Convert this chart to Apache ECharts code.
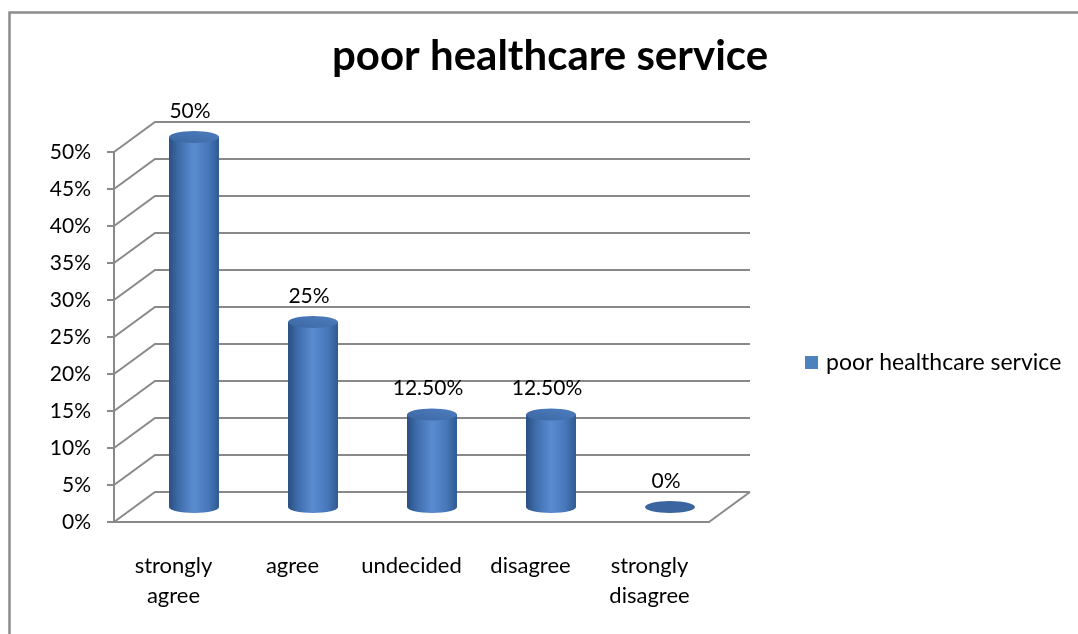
<!DOCTYPE html>
<html>
<head>
<meta charset="utf-8">
<title>poor healthcare service</title>
<script src="https://cdn.jsdelivr.net/npm/echarts@6/dist/echarts.min.js"></script>
<style>
  html, body { margin: 0; padding: 0; background: #fff; }
  #chart { width: 1078px; height: 634px; }
</style>
</head>
<body>
<div id="chart"></div>
<script>
// Survey responses
const categories = ['strongly\nagree', 'agree', 'undecided', 'disagree', 'strongly\ndisagree'];
const values = [0.5, 0.25, 0.125, 0.125, 0];
const seriesName = 'poor healthcare service';
const tickValues = [0, 0.05, 0.1, 0.15, 0.2, 0.25, 0.3, 0.35, 0.4, 0.45, 0.5];

// Pseudo-3D depth of the plot box (pixels the back wall sits behind the front plane)
const DEPTH_X = 41;
const DEPTH_Y = -30;
const FONT = 'Lato, "Open Sans", sans-serif';
const GRID_COLOR = '#898989';
const LABEL_SIZE = 21;

function pct(v) {
  const p = v * 100;
  return Number.isInteger(p) ? p + '%' : p.toFixed(2) + '%';
}

// Back wall gridlines plus the diagonal "side wall" strokes
function renderWall(params, api) {
  const cs = params.coordSys;
  const v = api.value(0);
  const p = api.coord([0, v]);
  const y = p[1];
  const xl = cs.x, xr = cs.x + cs.width;
  const children = [
    { type: 'polyline', shape: { points: [[xl, y], [xl + DEPTH_X, y + DEPTH_Y], [xr + DEPTH_X, y + DEPTH_Y]] },
      style: { stroke: GRID_COLOR, lineWidth: 2, fill: null } }
  ];
  if (v === 0) {
    children.push({ type: 'line', shape: { x1: xr, y1: y, x2: xr + DEPTH_X, y2: y + DEPTH_Y },
      style: { stroke: GRID_COLOR, lineWidth: 2 } });
  }
  return { type: 'group', children };
}

// Cylinder standing halfway into the depth of the plot box
function renderCylinder(params, api) {
  const i = api.value(0), v = api.value(1);
  const base = api.coord([i, 0]);
  const top = api.coord([i, v]);
  const rx = api.size([1, 0])[0] * 0.42 / 2;
  const ry = 6;
  const cx = base[0] + DEPTH_X / 2;
  const yb = base[1] + DEPTH_Y / 2;
  const yt = top[1] + DEPTH_Y / 2;
  const bodyFill = {
    type: 'linear', x: 0, y: 0, x2: 1, y2: 0,
    colorStops: [
      { offset: 0, color: '#2a4f82' },
      { offset: 0.2, color: '#3f6dab' },
      { offset: 0.5, color: '#5a8cd2' },
      { offset: 0.8, color: '#4676b8' },
      { offset: 1, color: '#2f5990' }
    ]
  };
  const topFill = {
    type: 'linear', x: 0, y: 1, x2: 1, y2: 0,
    colorStops: [
      { offset: 0, color: '#3b66a1' },
      { offset: 1, color: '#4e7ec0' }
    ]
  };
  const children = [];
  if (v > 0) {
    children.push({ type: 'circle', x: cx, y: yb, scaleY: ry / rx, shape: { cx: 0, cy: 0, r: rx }, style: { fill: bodyFill } });
    children.push({ type: 'rect', shape: { x: cx - rx, y: yt, width: rx * 2, height: yb - yt }, style: { fill: bodyFill } });
  }
  children.push({ type: 'circle', x: cx, y: yt, scaleY: ry / rx, shape: { cx: 0, cy: 0, r: rx },
    style: { fill: v > 0 ? topFill : '#3a659e' } });
  children.push({ type: 'text', x: cx - 4, y: yt - 26,
    style: { text: pct(v), textAlign: 'center', textVerticalAlign: 'middle', font: LABEL_SIZE + 'px ' + FONT, fill: '#000' } });
  return { type: 'group', children };
}

const chart = echarts.init(document.getElementById('chart'), null, { renderer: 'canvas' });
chart.setOption({
  animation: false,
  backgroundColor: '#fff',
  graphic: [{
    type: 'rect', left: 7, top: 10, z: -10,
    shape: { width: 1100, height: 700 },
    style: { fill: 'none', stroke: '#8c8c8c', lineWidth: 2.5 }
  }],
  title: {
    text: seriesName,
    left: 327,
    top: 30,
    textStyle: { fontFamily: FONT, fontSize: 42, fontWeight: 'bold', color: '#000' }
  },
  legend: {
    data: [seriesName],
    left: 805,
    top: 351,
    padding: 0,
    icon: 'rect',
    itemWidth: 13,
    itemHeight: 13,
    itemGap: 10,
    textStyle: { fontFamily: FONT, fontSize: 23, color: '#000', padding: [0, 0, 0, 3] }
  },
  grid: { left: 114, right: 369, top: 152, bottom: 112 },
  xAxis: {
    type: 'category',
    data: categories,
    axisLine: { lineStyle: { color: GRID_COLOR, width: 2 } },
    axisTick: { alignWithLabel: false, length: 9, lineStyle: { color: GRID_COLOR, width: 2 } },
    axisLabel: { interval: 0, margin: 29, fontFamily: FONT, fontSize: 22, color: '#000', lineHeight: 30 }
  },
  yAxis: {
    type: 'value',
    min: 0, max: 0.5, interval: 0.05,
    axisLine: { show: true, lineStyle: { color: GRID_COLOR, width: 2 } },
    axisTick: { show: true, length: 7, lineStyle: { color: GRID_COLOR, width: 2 } },
    splitLine: { show: false },
    axisLabel: { margin: 23, fontFamily: FONT, fontSize: LABEL_SIZE, color: '#000', formatter: v => pct(v) }
  },
  series: [
    {
      type: 'custom',
      name: 'wall',
      z: 1,
      silent: true,
      data: tickValues.map(v => [v]),
      encode: { y: 0 },
      renderItem: renderWall
    },
    {
      type: 'custom',
      name: seriesName,
      z: 5,
      itemStyle: { color: '#4f81bd' },
      data: categories.map((c, i) => [i, values[i]]),
      encode: { x: 0, y: 1 },
      renderItem: renderCylinder
    }
  ]
});
</script>
</body>
</html>
